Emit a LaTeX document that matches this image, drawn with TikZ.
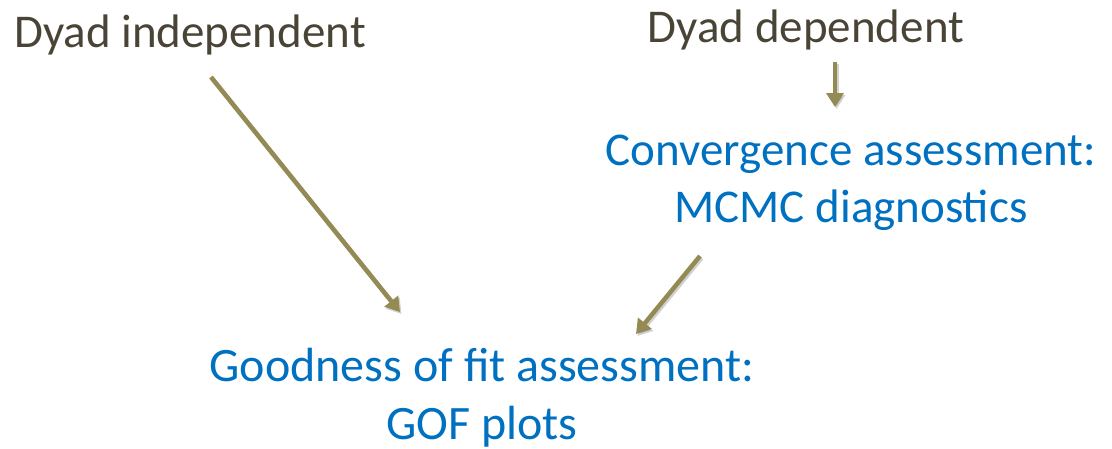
\documentclass[tikz,border=0pt]{standalone}
\usepackage{fontspec}
\setmainfont{Carlito}
\usetikzlibrary{arrows.meta}
\definecolor{brownTxt}{HTML}{4A4436}
\definecolor{blueTxt}{HTML}{0070C0}
\definecolor{arrowCol}{HTML}{948A54}
\tikzset{
  lbl/.style={inner sep=0pt, align=center, font=\fontsize{47}{57}\selectfont},
  darklbl/.style={lbl, text=brownTxt},
  bluelbl/.style={lbl, text=blueTxt},
  conn/.style={draw=arrowCol, line width=4.5pt,
    -{Triangle[width=17pt,length=14pt]},
    preaction={draw=black, opacity=0.18, line width=4.5pt, -{Triangle[width=17pt,length=14pt]},
      transform canvas={shift={(1.5pt,-2pt)}}}}
}
\begin{document}
\begin{tikzpicture}[x=1pt,y=-1pt]
\useasboundingbox (0,0) rectangle (1112,448);
\node[darklbl, anchor=base] (indep) at (190,47) {Dyad independent};
\node[darklbl, anchor=base] (dep) at (806,42) {Dyad dependent};
\node[bluelbl, anchor=base] (conv) at (851,222) {Convergence assessment:\\MCMC diagnostics};
\node[bluelbl, anchor=base, font=\fontsize{48}{58}\selectfont] (gof) at (482,439) {Goodness of fit assessment:\\GOF plots};
\coordinate (a1s) at (211,77);
\coordinate (a1e) at (400,312);
\coordinate (a2s) at (835,62);
\coordinate (a2e) at (835,107);
\coordinate (a3s) at (700,256);
\coordinate (a3e) at (636,334);
\draw[conn] (a1s) -- (a1e);
\draw[conn] (a2s) -- (a2e);
\draw[conn] (a3s) -- (a3e);
\end{tikzpicture}
\end{document}
